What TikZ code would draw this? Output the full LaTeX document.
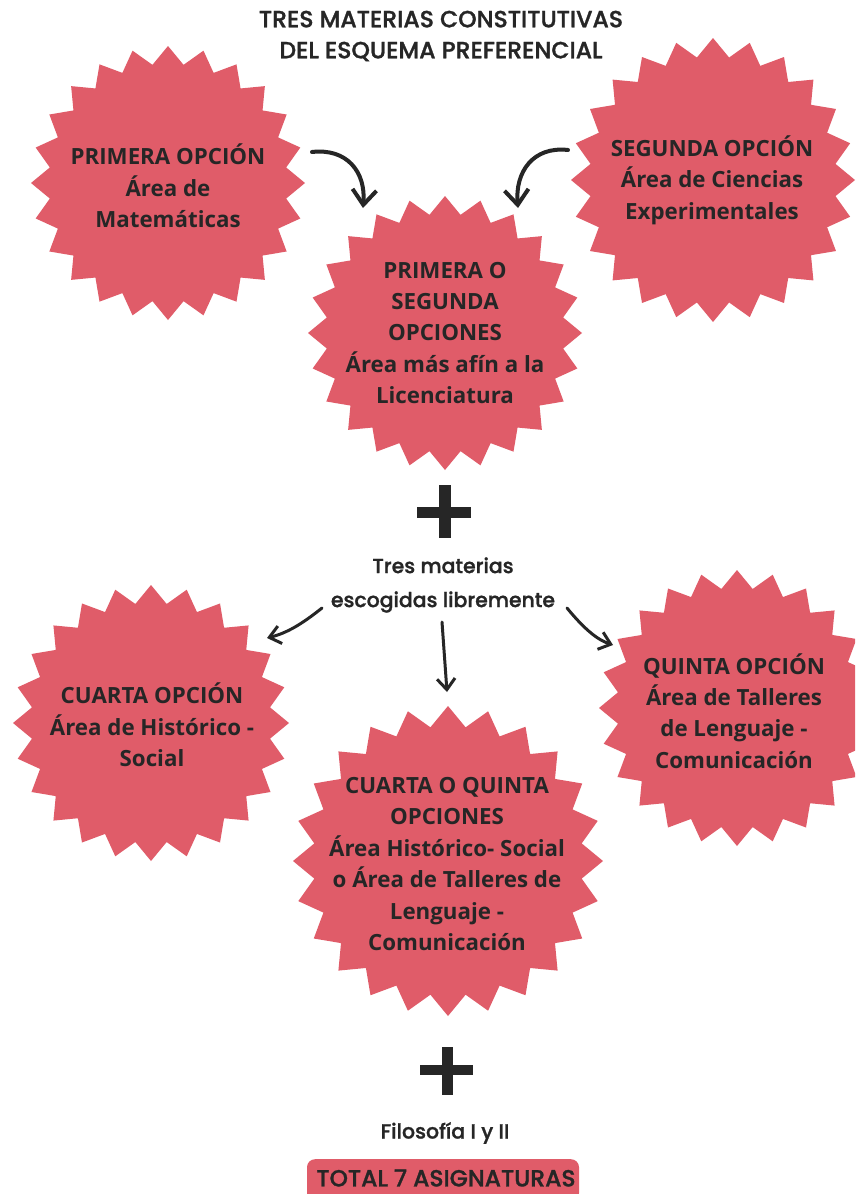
\documentclass[tikz,border=0pt]{standalone}
\usepackage{fontspec}
\newfontfamily\osb{Open Sans}
\newfontfamily\pop{Poppins Medium}[FakeBold=1.2]
\usetikzlibrary{arrows.meta}
\definecolor{burstred}{HTML}{E05C69}
\definecolor{ink}{HTML}{262626}
\newcommand\burstshape[3]{%
  \fill[burst,shift={(#1,#2)}] (90:#3)
    \foreach \k in {0,...,23}{ -- ({97.5+\k*15}:{0.87*#3}) -- ({105+\k*15}:#3)} -- cycle;}
\begin{document}
\begin{tikzpicture}[x=1pt,y=-1pt,
  burst/.style={fill=burstred},
  bursttext/.style={font=\osb\bfseries\fontsize{22.3}{31.4}\selectfont, text=ink, align=center, inner sep=0pt},
  poptext/.style={font=\pop\fontsize{23.5}{31}\selectfont, text=ink, align=center, inner sep=0pt},
  bigarrow/.style={draw=ink, line width=4pt, line cap=round, -{Straight Barb[length=15pt,width=24pt,line width=4pt]}},
  smallarrow/.style={draw=ink, line width=3pt, line cap=round, -{Straight Barb[length=11pt,width=18pt,line width=3pt]}},
  plusbar/.style={fill=ink},
]
\useasboundingbox (0,0) rectangle (855,1194);
\fill[white] (0,0) rectangle (855,1194);
\clip (0,0) rectangle (855,1194);

% title
\node[poptext] (title) at (441,36) {TRES MATERIAS CONSTITUTIVAS\\DEL ESQUEMA PREFERENCIAL};

% bursts
\burstshape{168}{183}{137}
\burstshape{713}{180}{142}
\burstshape{445}{333}{137}
\burstshape{151}{723}{138}
\burstshape{737}{708}{138}
\burstshape{448}{861}{155}

\node[bursttext] (s1) at (168,186) {PRIMERA OPCIÓN\\Área de\\Matemáticas};
\node[bursttext] (s2) at (712,180) {SEGUNDA OPCIÓN\\Área de Ciencias\\Experimentales};
\node[bursttext] (s3) at (445,333) {PRIMERA O\\SEGUNDA\\OPCIONES\\Área más afín a la\\Licenciatura};
\node[bursttext] (s4) at (152,725) {CUARTA OPCIÓN\\Área de Histórico -\\Social};
\node[bursttext] (s5) at (734,711) {QUINTA OPCIÓN\\Área de Talleres\\de Lenguaje -\\Comunicación};
\node[bursttext] (s6) at (447,864) {CUARTA O QUINTA\\OPCIONES\\Área Histórico- Social\\o Área de Talleres de\\Lenguaje -\\Comunicación};

% top arrows
\coordinate (a1s) at (312,152);
\coordinate (a1e) at (363,208);
\coordinate (a2s) at (568,150);
\coordinate (a2e) at (518,208);
\draw[bigarrow] (a1s) .. controls (347,148) and (366,172) .. (a1e);
\draw[bigarrow] (a2s) .. controls (533,146) and (515,172) .. (a2e);

% plus 1
\fill[plusbar] (417,507) rectangle (471,518);
\fill[plusbar] (439,485) rectangle (451,538);

% free choice text
\node[poptext, font=\pop\fontsize{20.4}{34}\selectfont] (tres) at (443,585) {Tres materias\\escogidas libremente};

\coordinate (b1s) at (322,608);
\coordinate (b1e) at (267,638);
\coordinate (b2s) at (442,622);
\coordinate (b2e) at (447,692);
\coordinate (b3s) at (567,608);
\coordinate (b3e) at (613,645);
\draw[smallarrow] (b1s) .. controls (302,624) and (287,633) .. (b1e);
\draw[smallarrow] (b2s) -- (b2e);
\draw[smallarrow] (b3s) .. controls (585,630) and (598,640) .. (b3e);

% plus 2
\fill[plusbar] (420,1065) rectangle (473,1075);
\fill[plusbar] (442,1047) rectangle (453,1095);

\node[poptext, font=\pop\fontsize{20.5}{24}\selectfont] (filo) at (445,1133) {Filosofía I y II};

\node[poptext, fill=burstred, rounded corners=8pt, minimum width=272pt, minimum height=42pt, anchor=north] (total) at (443,1159) {};
\node[poptext, font=\pop\fontsize{23.4}{26}\selectfont] (totaltext) at (446,1178) {TOTAL 7 ASIGNATURAS};
\end{tikzpicture}
\end{document}
